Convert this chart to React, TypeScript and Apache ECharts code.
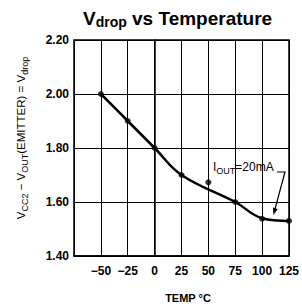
import React, { useEffect, useRef } from "react";
import * as echarts from "echarts";

const temps = [-50, -25, 0, 25, 50, 75, 100, 125];
const vdropPoints = [2.0, 1.9, 1.8, 1.7, 1.673, 1.6, 1.538, 1.53];
const curveTemps = [-50, -25, 0, 25, 75, 100, 125];
const curveValues = [2.0, 1.9, 1.8, 1.7, 1.6, 1.54, 1.53];
const yTicks = [1.4, 1.6, 1.8, 2.0, 2.2];

const FONT = "'Liberation Sans', Arial, Helvetica, sans-serif";

export default function App() {
  const ref = useRef<HTMLDivElement>(null);
  useEffect(() => {
    if (!ref.current) return;
    const chart = echarts.init(ref.current, null, { renderer: "svg" });
    const option: any = {
      animation: false,
      backgroundColor: "#fff",
      grid: {
        left: 74,
        top: 40,
        right: 12,
        bottom: 52,
        show: true,
        borderColor: "#000",
        borderWidth: 1.5,
      },
      xAxis: {
        type: "value",
        min: -75,
        max: 125,
        interval: 25,
        axisLine: { show: true, lineStyle: { color: "#000", width: 1.5 } },
        axisTick: { show: false },
        splitLine: { show: true, lineStyle: { color: "#000", width: 1 } },
        axisLabel: {
          margin: 9,
          fontFamily: FONT,
          fontSize: 12,
          fontWeight: "bold",
          color: "#000",
          formatter: (v: number) => (v === -75 ? "" : String(v).replace("-", "−")),
        },
      },
      yAxis: {
        type: "value",
        min: yTicks[0],
        max: yTicks[yTicks.length - 1],
        interval: 0.2,
        axisLine: { show: true, lineStyle: { color: "#000", width: 1.5 } },
        axisTick: { show: false },
        splitLine: { show: true, lineStyle: { color: "#000", width: 1 } },
        axisLabel: {
          margin: 5,
          fontFamily: FONT,
          fontSize: 12,
          fontWeight: "bold",
          color: "#000",
          formatter: (v: number) => v.toFixed(2),
        },
      },
      series: [
        {
          type: "line",
          data: curveTemps.map((t, i) => [t, curveValues[i]]),
          smooth: 0.4,
          symbol: "none",
          lineStyle: { color: "#000", width: 2.5 },
          z: 3,
        },
        {
          type: "scatter",
          data: temps.map((t, i) => [t, vdropPoints[i]]),
          symbol: "circle",
          symbolSize: 6,
          itemStyle: { color: "#000" },
          z: 4,
        },
      ],
      graphic: [
        {
          type: "text",
          x: 83,
          y: 18,
          style: {
            text: "{v|V}{s|drop}{v| vs Temperature}",
            fontFamily: FONT,
            verticalAlign: "middle",
            rich: {
              v: { fontSize: 19, fontWeight: "bold", fontFamily: FONT, fill: "#000", lineHeight: 22 },
              s: { fontSize: 14, fontWeight: "bold", fontFamily: FONT, fill: "#000", verticalAlign: "bottom", lineHeight: 14, padding: [8, 0, 0, 0] },
            },
          },
        },
        {
          type: "text",
          x: 21,
          y: 138,
          rotation: Math.PI / 2,
          style: {
            text: "{n|V}{s|CC2}{n| − V}{s|OUT}{n|(EMITTER) = V}{s|drop}",
            align: "center",
            verticalAlign: "middle",
            rich: {
              n: { fontSize: 11.5, fontFamily: FONT, fill: "#000", lineHeight: 16 },
              s: { fontSize: 9, fontFamily: FONT, fill: "#000", verticalAlign: "bottom", lineHeight: 10, padding: [6, 0, 0, 0] },
            },
          },
        },
        {
          type: "text",
          x: 188,
          y: 298,
          style: {
            text: "TEMP °C",
            align: "center",
            verticalAlign: "middle",
            fontSize: 11,
            fontWeight: "bold",
            fontFamily: FONT,
            fill: "#000",
          },
        },
        {
          type: "text",
          x: 213,
          y: 167,
          style: {
            text: "{n|I}{s|OUT}{n|=20mA}",
            verticalAlign: "middle",
            rich: {
              n: { fontSize: 12, fontFamily: FONT, fill: "#000", lineHeight: 16 },
              s: { fontSize: 9, fontFamily: FONT, fill: "#000", verticalAlign: "bottom", lineHeight: 10, padding: [6, 0, 0, 0] },
            },
          },
        },
        {
          type: "polyline",
          shape: { points: [[277, 172], [285, 172], [275, 209]] },
          style: { stroke: "#000", lineWidth: 1.2, fill: null },
        },
        {
          type: "polygon",
          shape: { points: [[273.5, 215], [277.7, 208.9], [272.9, 207.6]] },
          style: { fill: "#000" },
        },
      ],
    };
    chart.setOption(option);
    return () => chart.dispose();
  }, []);
  return <div ref={ref} style={{ width: 302, height: 308, position: "absolute", left: 0, top: 0 }} />;
}
